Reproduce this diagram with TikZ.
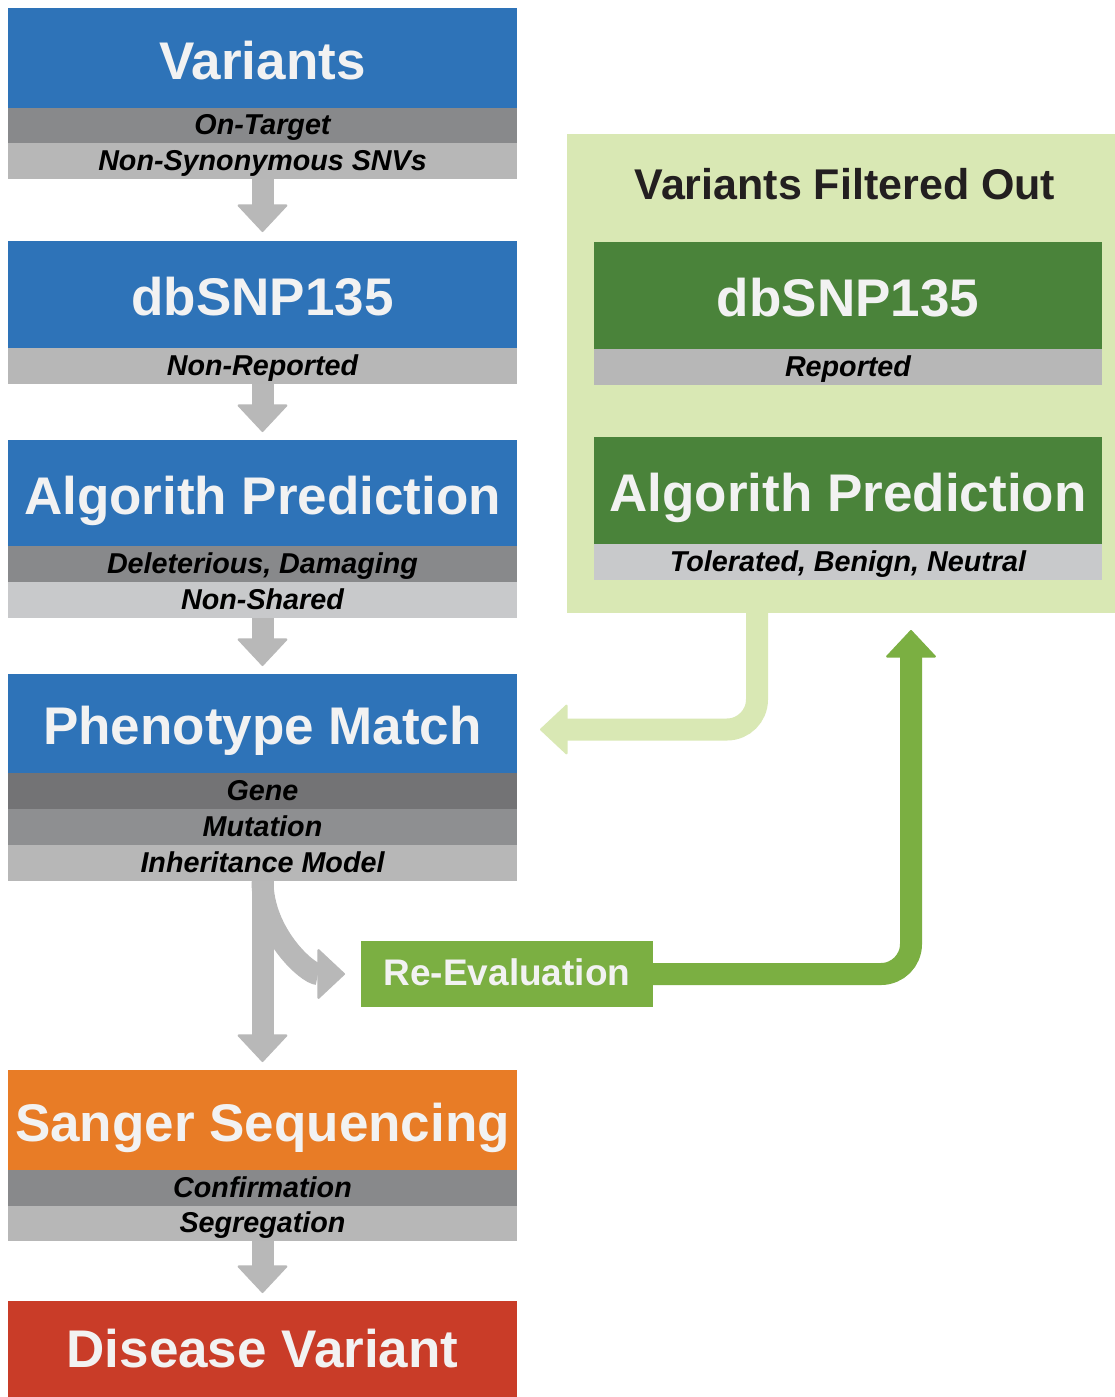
\documentclass[tikz,border=0pt]{standalone}
\usepackage{fontspec}
\setmainfont{Liberation Sans}
\usetikzlibrary{arrows.meta}
\definecolor{stageblue}{RGB}{46,115,184}
\definecolor{stagegreen}{RGB}{74,131,58}
\definecolor{stageorange}{RGB}{232,124,38}
\definecolor{stagered}{RGB}{201,60,40}
\definecolor{panelgreen}{RGB}{217,232,180}
\definecolor{reevalgreen}{RGB}{123,175,66}
\definecolor{titletext}{RGB}{242,242,242}
\definecolor{titledark}{RGB}{35,31,32}
\definecolor{banddark}{RGB}{136,137,139}
\definecolor{bandlight}{RGB}{183,183,183}
\definecolor{bandpale}{RGB}{200,201,203}
\definecolor{bandgene}{RGB}{115,115,117}
\definecolor{bandmut}{RGB}{142,143,145}
\definecolor{arrowgray}{RGB}{184,184,184}
\begin{document}
\begin{tikzpicture}[x=1pt,y=-1pt,
  stagebox/.style={rectangle,inner sep=0pt,outer sep=0pt,minimum width=509pt,text=titletext,
    font=\bfseries\fontsize{53}{60}\selectfont,text height=42pt,text depth=0pt,anchor=north},
  subband/.style={rectangle,inner sep=0pt,outer sep=0pt,minimum width=509pt,minimum height=36pt,
    font=\bfseries\itshape\fontsize{28.7}{32}\selectfont,text height=18pt,text depth=0pt,anchor=north},
  flow/.style={draw=arrowgray,line width=22pt,
    -{Triangle[length=28pt,width=52pt,line width=2pt,round]}},
  backflow/.style={draw=panelgreen,line width=22pt,rounded corners=30pt,
    -{Triangle[length=28pt,width=52pt,line width=2pt,round]}},
  reflow/.style={draw=reevalgreen,line width=22pt,rounded corners=30pt,
    -{Triangle[length=28pt,width=52pt,line width=2pt,round]}}]
\path[use as bounding box] (0,0) rectangle (1115,1397);
\path[fill=white] (0,0) rectangle (1115,1397);

% main pipeline
\node[stagebox,fill=stageblue,minimum height=100pt] (variants) at (262.5,8) {Variants};
\node[subband,fill=banddark,minimum height=35pt] (ontarget) at (variants.south) {On-Target};
\node[subband,fill=bandlight] (nonsyn) at (ontarget.south) {Non-Synonymous SNVs};

\node[stagebox,fill=stageblue,minimum height=107pt] (dbsnp) at (262.5,241) {dbSNP135};
\node[subband,fill=bandlight] (nonrep) at (dbsnp.south) {Non-Reported};

\node[stagebox,fill=stageblue,minimum height=106pt] (algo) at (262.5,440) {Algorith Prediction};
\node[subband,fill=banddark] (deleterious) at (algo.south) {Deleterious, Damaging};
\node[subband,fill=bandpale] (nonshared) at (deleterious.south) {Non-Shared};

\node[stagebox,fill=stageblue,minimum height=99pt] (pheno) at (262.5,674) {Phenotype Match};
\node[subband,fill=bandgene] (gene) at (pheno.south) {Gene};
\node[subband,fill=bandmut] (mutation) at (gene.south) {Mutation};
\node[subband,fill=bandlight] (inherit) at (mutation.south) {Inheritance Model};

\node[stagebox,fill=stageorange,minimum height=100pt] (sanger) at (262.5,1070) {Sanger Sequencing};
\node[subband,fill=banddark] (confirm) at (sanger.south) {Confirmation};
\node[subband,fill=bandlight,minimum height=35pt] (segregation) at (confirm.south) {Segregation};

\node[stagebox,fill=stagered,minimum height=96pt,text height=36pt] (disease) at (262.5,1301) {Disease Variant};

\node[inner sep=0pt,outer sep=0pt,fill=reevalgreen,minimum width=292pt,minimum height=66pt,
  text=titletext,font=\bfseries\fontsize{37}{42}\selectfont,text height=23pt,text depth=0pt]
  (reeval) at (507,974) {Re-Evaluation};

% filtered out panel
\node[inner sep=0pt,outer sep=0pt,fill=panelgreen,minimum width=548pt,minimum height=479pt,
  anchor=north west] (filtered) at (567,134) {};
\node[inner sep=0pt,outer sep=0pt,anchor=base,text=titledark,
  font=\bfseries\fontsize{43}{50}\selectfont] (filteredtitle) at (845,199) {Variants Filtered Out};
\node[stagebox,fill=stagegreen,minimum width=508pt,minimum height=107pt] (rdbsnp) at (848,242) {dbSNP135};
\node[subband,fill=bandlight,minimum width=508pt] (reported) at (rdbsnp.south) {Reported};
\node[stagebox,fill=stagegreen,minimum width=508pt,minimum height=107pt] (ralgo) at (848,437) {Algorith Prediction};
\node[subband,fill=bandpale,minimum width=508pt] (tolerated) at (ralgo.south) {Tolerated, Benign, Neutral};

% connectors
\draw[flow,shorten >=9pt] (nonsyn.south) -- (dbsnp.north);
\draw[flow,shorten >=8pt] (nonrep.south) -- (algo.north);
\draw[flow,shorten >=8pt] (nonshared.south) -- (pheno.north);
\draw[flow,shorten >=8pt] (inherit.south) -- (sanger.north);
\draw[flow,shorten >=16pt] (inherit.south) to[out=-90,in=180] (reeval.west);
\draw[flow,shorten >=8pt] (segregation.south) -- (disease.north);
\draw[backflow,shorten >=23pt] ([xshift=-84pt]filtered.south) |- ([yshift=-6pt]pheno.east);
\draw[reflow,shorten >=17pt] (reeval.east) -| ([xshift=70pt]filtered.south);
\end{tikzpicture}
\end{document}
